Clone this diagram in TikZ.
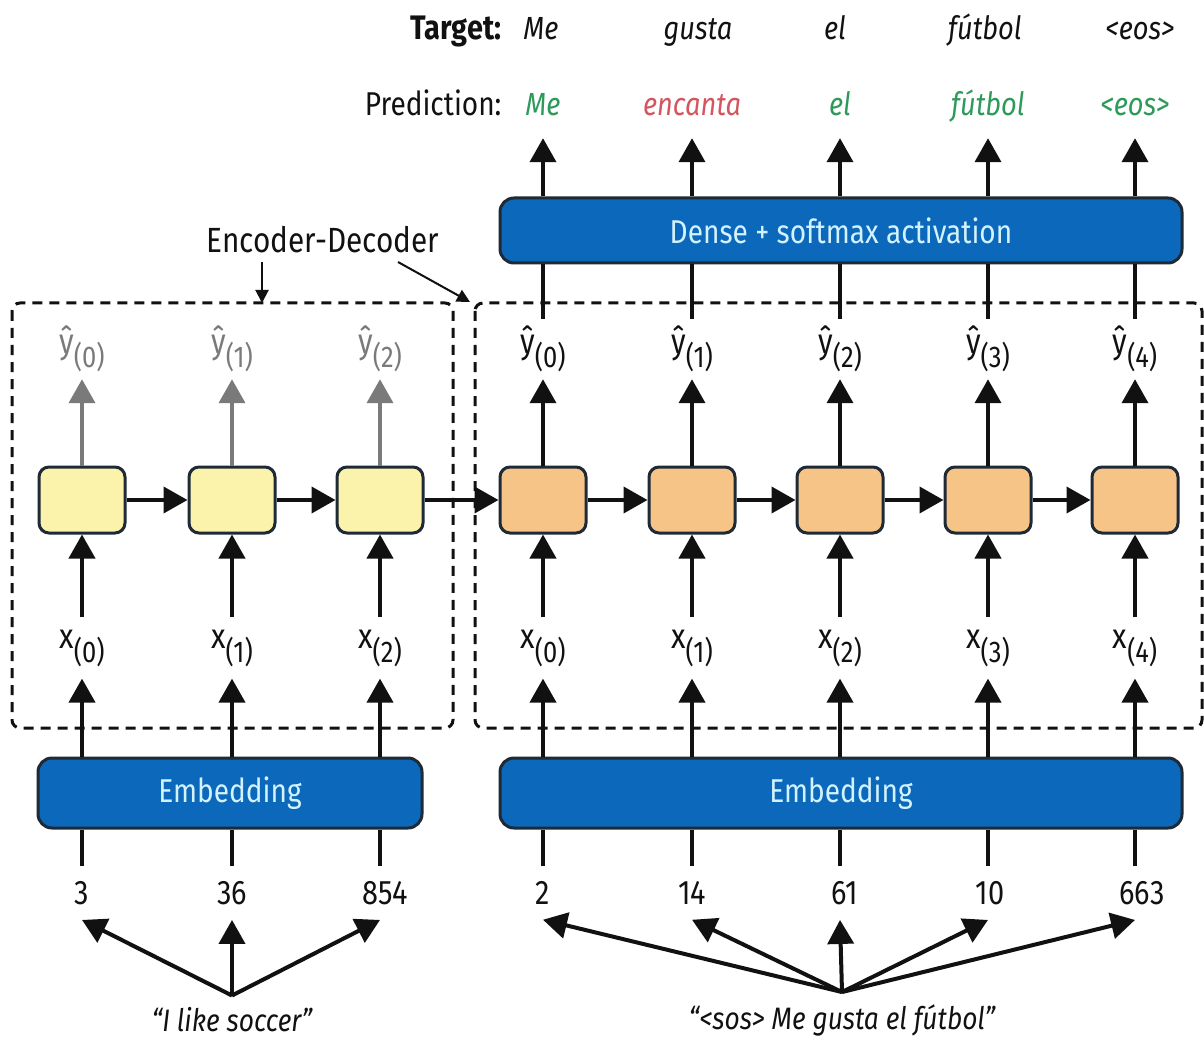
\documentclass[tikz,border=0pt]{standalone}
\usepackage{fontspec}
\setmainfont{Fira Sans}[FakeStretch=0.85]
\usetikzlibrary{arrows.meta}
\definecolor{dblue}{HTML}{0B68BA}
\definecolor{boxedge}{HTML}{1E2A36}
\definecolor{lcyan}{HTML}{D2F2FF}
\definecolor{cellY}{HTML}{FBF3AC}
\definecolor{cellO}{HTML}{F6C487}
\definecolor{okgreen}{HTML}{2E9A5A}
\definecolor{badred}{HTML}{D5555E}
\definecolor{agray}{HTML}{7A7A7A}
\definecolor{ink}{HTML}{111111}
\newcommand{\seqlab}[2]{#1\raisebox{-0.4em}{\fontsize{30}{36}\selectfont(#2)}}
\tikzset{
  arr/.style={draw=ink, line width=4pt, -{Triangle[length=24pt,width=26pt]}},
  garr/.style={arr, draw=agray, -{Triangle[length=24pt,width=26pt,fill=agray]}},
  ln/.style={draw=ink, line width=4pt},
  thinarr/.style={draw=ink, line width=2pt, -{Triangle[length=13pt,width=13pt]}},
  bluebox/.style={draw=boxedge, line width=3pt, fill=dblue, rounded corners=14pt, text=lcyan, inner sep=0pt, font=\fontsize{33}{40}\selectfont},
  cellE/.style={draw=boxedge, line width=3pt, fill=cellY, rounded corners=10pt, minimum width=86pt, minimum height=66pt, inner sep=0pt},
  cellD/.style={cellE, fill=cellO},
  dashbox/.style={draw=ink, line width=3pt, dash pattern=on 10pt off 7pt, rounded corners=8pt},
  xlab/.style={inner sep=12pt, text=ink, font=\fontsize{35}{42}\selectfont},
  ylab/.style={inner sep=7pt, text=ink, font=\fontsize{35}{42}\selectfont},
  numlab/.style={inner sep=15pt, text=ink, font=\fontsize{34}{40}\selectfont},
  word/.style={font=\fontsize{32}{38}\selectfont\itshape, text height=22pt, text depth=7pt, inner xsep=0pt, inner ysep=15pt},
  sent/.style={font=\fontsize{31}{37}\selectfont\itshape, inner sep=12pt, text=ink},
}
\begin{document}
\begin{tikzpicture}[x=1pt,y=-1pt,font=\fontsize{33}{40}\selectfont]
\useasboundingbox[fill=white] (0,0) rectangle (1204,1040);

% dashed groups
\draw[dashbox] (12,303) rectangle (453,728);
\draw[dashbox] (475,303) rectangle (1202,728);
\coordinate (encTop) at (262,303);
\coordinate (decCorner) at (470,302);

% header labels
\node[anchor=base east, font=\fontsize{34}{40}\selectfont\bfseries, text=ink] (tgtlab) at (505,40) {Target:};
\node[anchor=base east, text=ink] (predlab) at (505,116) {Prediction:};

% target words
\node[word, text=ink] (t0) at (541,32.5) {Me};
\node[word, text=ink] (t1) at (698,32.5) {gusta};
\node[word, text=ink] (t2) at (835,32.5) {el};
\node[word, text=ink] (t3) at (985,32.5) {fútbol};
\node[word, text=ink] (t4) at (1140,32.5) {<eos>};

% prediction words
\node[word, text=okgreen] (p0) at (543,108.5) {Me};
\node[word, text=badred] (p1) at (692,108.5) {encanta};
\node[word, text=okgreen] (p2) at (840,108.5) {el};
\node[word, text=okgreen] (p3) at (988,108.5) {fútbol};
\node[word, text=okgreen] (p4) at (1135,108.5) {<eos>};

% dense
\node[bluebox, minimum width=682pt, minimum height=65pt] (dense) at (841,230.5) {Dense + softmax activation};

% Encoder-Decoder label
\node[text=ink, font=\fontsize{35}{42}\selectfont] (edlab) at (323,240) {Encoder-Decoder};
\draw[thinarr] (262,262) -- (encTop);
\draw[thinarr] (398,262) -- (decCorner);

% output labels
\node[ylab, text=agray] (ye0) at (82,349) {\seqlab{ŷ}{0}};
\node[ylab, text=agray] (ye1) at (232,349) {\seqlab{ŷ}{1}};
\node[ylab, text=agray] (ye2) at (380,349) {\seqlab{ŷ}{2}};
\node[ylab] (yd0) at (543,349) {\seqlab{ŷ}{0}};
\node[ylab] (yd1) at (692,349) {\seqlab{ŷ}{1}};
\node[ylab] (yd2) at (840,349) {\seqlab{ŷ}{2}};
\node[ylab] (yd3) at (988,349) {\seqlab{ŷ}{3}};
\node[ylab] (yd4) at (1135,349) {\seqlab{ŷ}{4}};

% cells
\node[cellE] (e0) at (82,500) {};
\node[cellE] (e1) at (232,500) {};
\node[cellE] (e2) at (380,500) {};
\node[cellD] (d0) at (543,500) {};
\node[cellD] (d1) at (692,500) {};
\node[cellD] (d2) at (840,500) {};
\node[cellD] (d3) at (988,500) {};
\node[cellD] (d4) at (1135,500) {};

% input labels
\node[xlab] (xe0) at (82,648) {\seqlab{x}{0}};
\node[xlab] (xe1) at (232,648) {\seqlab{x}{1}};
\node[xlab] (xe2) at (380,648) {\seqlab{x}{2}};
\node[xlab] (xd0) at (543,648) {\seqlab{x}{0}};
\node[xlab] (xd1) at (692,648) {\seqlab{x}{1}};
\node[xlab] (xd2) at (840,648) {\seqlab{x}{2}};
\node[xlab] (xd3) at (988,648) {\seqlab{x}{3}};
\node[xlab] (xd4) at (1135,648) {\seqlab{x}{4}};

% embeddings
\node[bluebox, minimum width=384pt, minimum height=70pt] (embE) at (230,793) {Embedding};
\node[bluebox, minimum width=682pt, minimum height=70pt] (embD) at (841,793) {Embedding};

% token ids
\node[numlab] (ne0) at (82,893) {3};
\node[numlab] (ne1) at (232,893) {36};
\node[numlab] (ne2) at (385,893) {854};
\node[numlab] (nd0) at (543,893) {2};
\node[numlab] (nd1) at (692,893) {14};
\node[numlab] (nd2) at (845,893) {61};
\node[numlab] (nd3) at (990,893) {10};
\node[numlab] (nd4) at (1142,893) {663};

% sentences
\node[sent] (sE) at (232,1020) {“I like soccer”};
\node[sent] (sD) at (842,1020) {“<sos> Me gusta el fútbol”};

% dense -> predictions
\foreach \p in {p0,p1,p2,p3,p4} {\draw[arr] (dense.north -| \p) -- (\p.south);}
% outputs -> dense
\foreach \y in {yd0,yd1,yd2,yd3,yd4} {\draw[ln] (\y.north) -- (\y |- dense.south);}
% cells -> outputs
\draw[garr] (e0.north) -- (ye0.south);
\draw[garr] (e1.north) -- (ye1.south);
\draw[garr] (e2.north) -- (ye2.south);
\draw[arr] (d0.north) -- (yd0.south);
\draw[arr] (d1.north) -- (yd1.south);
\draw[arr] (d2.north) -- (yd2.south);
\draw[arr] (d3.north) -- (yd3.south);
\draw[arr] (d4.north) -- (yd4.south);
% recurrence
\draw[arr] (e0) -- (e1);
\draw[arr] (e1) -- (e2);
\draw[arr] (e2) -- (d0);
\draw[arr] (d0) -- (d1);
\draw[arr] (d1) -- (d2);
\draw[arr] (d2) -- (d3);
\draw[arr] (d3) -- (d4);
% inputs -> cells
\foreach \a/\b in {xe0/e0,xe1/e1,xe2/e2,xd0/d0,xd1/d1,xd2/d2,xd3/d3,xd4/d4} {\draw[arr] (\a.north) -- (\b.south);}
% embeddings -> inputs
\foreach \a in {xe0,xe1,xe2} {\draw[arr] (embE.north -| \a) -- (\a.south);}
\foreach \a in {xd0,xd1,xd2,xd3,xd4} {\draw[arr] (embD.north -| \a) -- (\a.south);}
% ids -> embeddings
\foreach \a/\c in {ne0/e0,ne1/e1,ne2/e2} {\draw[ln] (\a.north -| \c) -- (\c |- embE.south);}
\foreach \a/\c in {nd0/d0,nd1/d1,nd2/d2,nd3/d3,nd4/d4} {\draw[ln] (\a.north -| \c) -- (\c |- embD.south);}
% sentences -> ids
\foreach \a/\c in {ne0/e0,ne1/e1,ne2/e2} {\draw[arr] (sE.north) -- (\a.south -| \c);}
\foreach \a/\c in {nd0/d0,nd1/d1,nd2/d2,nd3/d3,nd4/d4} {\draw[arr] (sD.north) -- (\a.south -| \c);}
\end{tikzpicture}
\end{document}
